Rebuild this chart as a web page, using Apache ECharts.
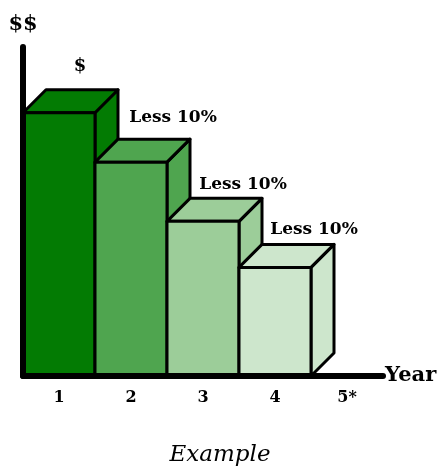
<!DOCTYPE html>
<html>
<head>
<meta charset="utf-8">
<script src="https://cdn.jsdelivr.net/npm/echarts@6/dist/echarts.min.js"></script>
<style>html,body{margin:0;padding:0;background:#fff}#c{width:440px;height:470px}</style>
</head>
<body>
<div id="c"></div>
<script>
// ---- data ----
var categories = ['1', '2', '3', '4', '5*'];
var values = [80, 65, 47, 33];
var barLabels = ['$', 'Less 10%', 'Less 10%', 'Less 10%'];
var yAxisName = '$$';
var xAxisName = 'Year';
var chartTitle = 'Example';

// ---- style ----
var FONT = 'DejaVu Serif';
var faceColors = ['#037b03', '#4fa54f', '#9ccd99', '#cde6cc'];
var DEPTH_X = 23, DEPTH_Y = 23;
var labelOffsets = [[21, -46], [42, -45], [40, -37], [39, -38]];
var labelSizes = [18, 17, 17, 17];

var chart = echarts.init(document.getElementById('c'), null, {renderer: 'canvas'});

function renderItem(params, api) {
  var idx = api.value(0);
  var val = api.value(1);
  var top = api.coord([idx, val]);
  var bot = api.coord([idx, 0]);
  var bw = api.size([1, 0])[0];
  var x0 = top[0] - bw / 2, x1 = top[0] + bw / 2;
  var yT = top[1], yB = bot[1];
  var col = faceColors[params.dataIndex];
  var st = {fill: col, stroke: '#000', lineWidth: 3, lineJoin: 'round'};
  var off = labelOffsets[params.dataIndex];
  return {
    type: 'group',
    children: [
      {type: 'polygon', shape: {points: [[x1, yT], [x1 + DEPTH_X, yT - DEPTH_Y], [x1 + DEPTH_X, yB - DEPTH_Y], [x1, yB]]}, style: st},
      {type: 'polygon', shape: {points: [[x0, yT], [x0 + DEPTH_X, yT - DEPTH_Y], [x1 + DEPTH_X, yT - DEPTH_Y], [x1, yT]]}, style: st},
      {type: 'rect', shape: {x: x0, y: yT, width: bw, height: yB - yT}, style: st},
      {type: 'text', x: top[0] + off[0], y: yT + off[1],
        style: {text: barLabels[params.dataIndex], fill: '#000', font: 'bold ' + labelSizes[params.dataIndex] + 'px "' + FONT + '"', textAlign: 'center', textVerticalAlign: 'middle'}}
    ]
  };
}

var seriesData = values.map(function (v, i) { return [i, v]; });

chart.setOption({
  animation: false,
  title: {
    text: chartTitle, left: 'center', bottom: -2,
    textStyle: {fontFamily: FONT, fontStyle: 'italic', fontWeight: 'normal', fontSize: 23, color: '#000'}
  },
  grid: {left: 23, right: 57, top: 47, bottom: 94, containLabel: false},
  xAxis: {
    type: 'category', data: categories, z: 10,
    name: xAxisName, nameLocation: 'end', nameGap: 2,
    nameTextStyle: {fontFamily: FONT, fontWeight: 'bold', fontSize: 21, color: '#000', verticalAlign: 'middle', padding: [4, 0, 0, 0]},
    axisLine: {show: true, lineStyle: {color: '#000', width: 6}},
    axisTick: {show: false},
    axisLabel: {fontFamily: FONT, fontWeight: 'bold', fontSize: 16, color: '#000', margin: 14}
  },
  yAxis: {
    type: 'value', min: 0, max: 100, z: 10,
    name: yAxisName, nameLocation: 'end', nameGap: 12,
    nameTextStyle: {fontFamily: FONT, fontWeight: 'bold', fontSize: 21, color: '#000', align: 'center'},
    axisLine: {show: true, lineStyle: {color: '#000', width: 6}},
    axisTick: {show: false}, axisLabel: {show: false}, splitLine: {show: false}
  },
  series: [{
    type: 'custom', renderItem: renderItem, data: seriesData, clip: false,
    encode: {x: 0, y: 1}
  }]
});
</script>
</body>
</html>
